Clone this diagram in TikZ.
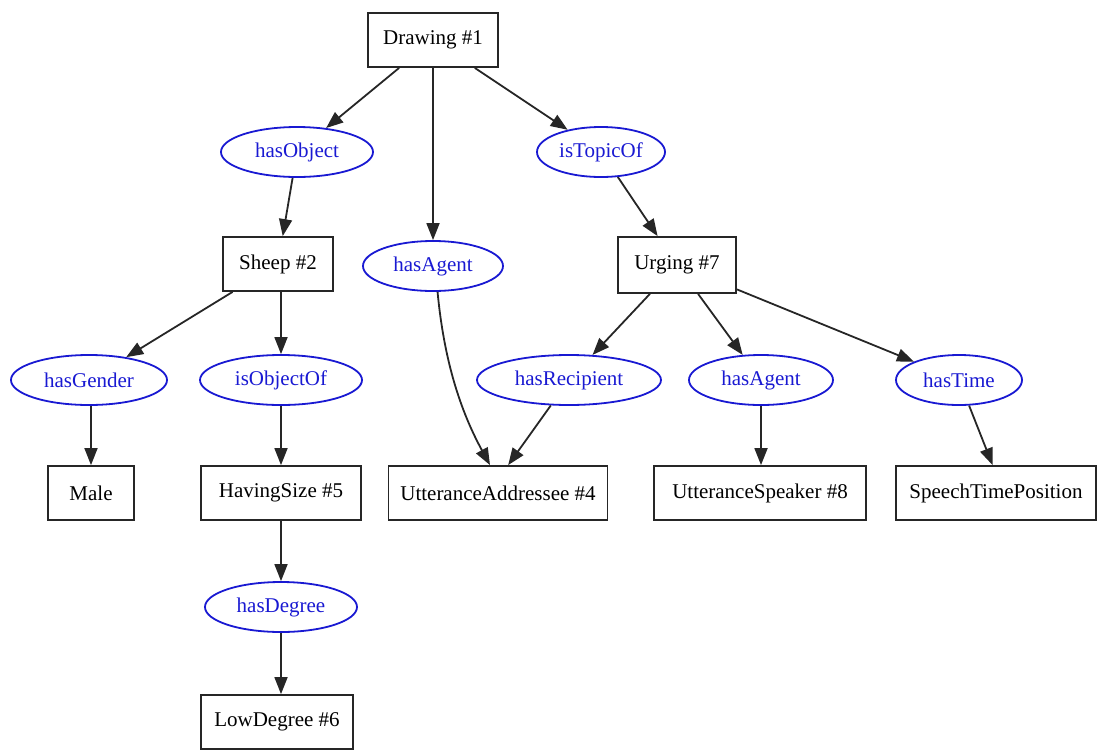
\documentclass[tikz,border=0pt]{standalone}
\usepackage{fontspec}
\setmainfont{Liberation Serif}
\usetikzlibrary{shapes.geometric,arrows.meta}
\definecolor{relblue}{RGB}{25,25,210}
\begin{document}
\begin{tikzpicture}[x=1pt,y=-1pt,
  font=\fontsize{21}{25}\selectfont,
  box/.style={draw=black!85,line width=1.8pt,rectangle,inner sep=0pt,minimum height=54pt},
  rel/.style={draw=relblue,line width=1.8pt,ellipse,inner sep=0pt,minimum height=50pt,text=relblue},
  edge/.style={draw=black!85,line width=1.8pt,-{Triangle[length=17pt,width=13pt]}}
]
\useasboundingbox (0,0) rectangle (1101,753);
\node[box,minimum width=130pt] (d1) at (433,40) {Drawing \#1};
\node[rel,minimum width=152pt] (hobj) at (297,152) {hasObject};
\node[rel,minimum width=128pt] (itop) at (601,152) {isTopicOf};
\node[box,minimum width=110pt] (sheep) at (278,264) {Sheep \#2};
\node[rel,minimum width=140pt] (hag1) at (433,266) {hasAgent};
\node[box,minimum width=118pt,minimum height=56pt] (urg) at (677,265) {Urging \#7};
\node[rel,minimum width=156pt] (hgen) at (89,380) {hasGender};
\node[rel,minimum width=162pt] (iobj) at (281,380) {isObjectOf};
\node[rel,minimum width=184pt] (hrec) at (569,380) {hasRecipient};
\node[rel,minimum width=144pt] (hag2) at (761,380) {hasAgent};
\node[rel,minimum width=126pt] (htime) at (959,380) {hasTime};
\node[box,minimum width=86pt] (male) at (91,493) {Male};
\node[box,minimum width=160pt] (hsize) at (281,493) {HavingSize \#5};
\node[box,minimum width=219pt] (uadd) at (498,493) {UtteranceAddressee \#4};
\node[box,minimum width=212pt] (uspk) at (760,493) {UtteranceSpeaker \#8};
\node[box,minimum width=200pt] (stp) at (996,493) {SpeechTimePosition};
\node[rel,minimum width=152pt] (hdeg) at (281,607) {hasDegree};
\node[box,minimum width=152pt] (low) at (277,722) {LowDegree \#6};

\draw[edge] (d1) -- (hobj);
\draw[edge] (d1) -- (hag1);
\draw[edge] (d1) -- (itop);
\draw[edge] (hobj) -- (sheep);
\draw[edge] (itop) -- (urg);
\draw[edge] (sheep) -- (hgen);
\draw[edge] (sheep.south -| iobj) -- (iobj);
\draw[edge] (hag1.-80) .. controls (444,360) and (460,410) .. (uadd.106);
\draw[edge] (urg) -- (hrec);
\draw[edge] (urg) -- (hag2);
\draw[edge] (urg) -- (htime);
\draw[edge] (hgen.south -| male) -- (male);
\draw[edge] (iobj) -- (hsize);
\draw[edge] (hrec) -- (uadd.70);
\draw[edge] (hag2) -- (uspk.north -| hag2);
\draw[edge] (htime) -- (stp.97);
\draw[edge] (hsize) -- (hdeg);
\draw[edge] (hdeg) -- (low.north -| hdeg);
\end{tikzpicture}
\end{document}
